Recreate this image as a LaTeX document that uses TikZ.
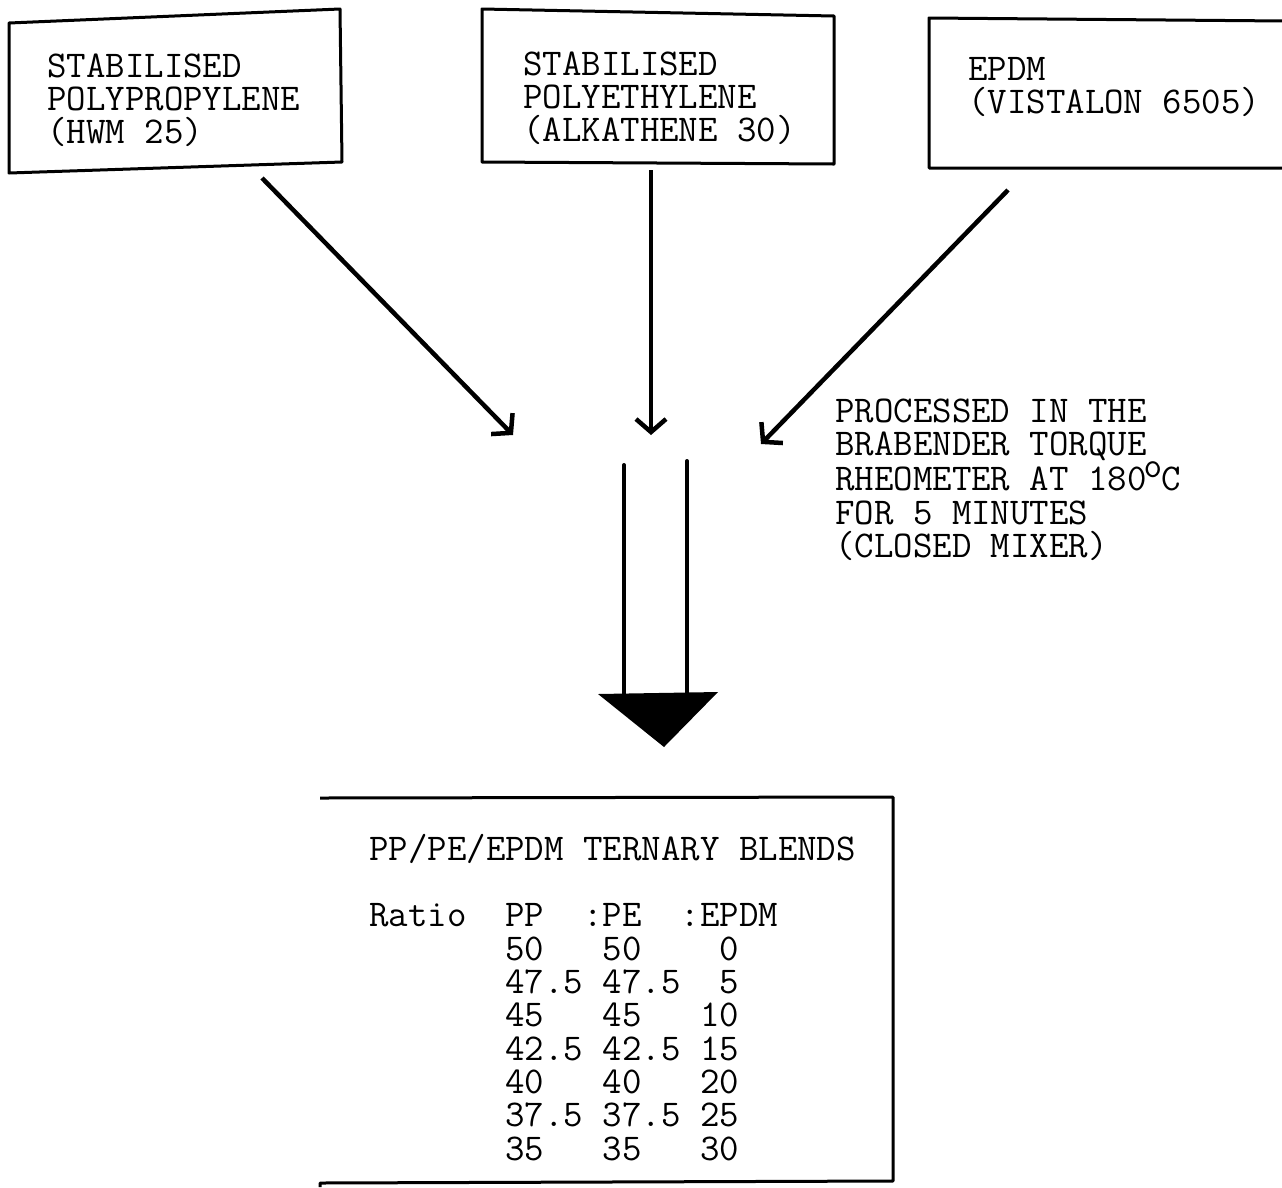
\documentclass[tikz,border=0pt]{standalone}
\usepackage{fontspec}
\usetikzlibrary{arrows.meta}
\newcommand\twfont{\ttfamily\addfontfeatures{FakeBold=0.8}\fontsize{37.8}{33.3}\selectfont}
\tikzset{
  boxline/.style={line width=3pt, line join=round},
  txt/.style={font=\twfont, align=left, inner sep=0pt, anchor=base west},
  feed/.style={line width=4.5pt, -{Straight Barb[length=13pt,width=30pt,line width=4.5pt]}},
  shaft/.style={line width=4pt, line cap=round},
}
\begin{document}
\begin{tikzpicture}[x=1pt,y=-1pt]
\useasboundingbox (0,0) rectangle (1282,1187);
% boxes
\draw[boxline] (9,23) -- (340,9) -- (342,162) -- (9,173) -- cycle;
\draw[boxline] (482,9) -- (834,16) -- (834,164) -- (482,162) -- cycle;
\draw[boxline] (1285,21) -- (929,18) -- (929,168) -- (1285,168);
\draw[boxline] (320,798) -- (893,797) -- (893,1181) -- (320,1183) -- (320,1187);
% texts (anchor = baseline of last line)
\node[txt] (t1) at (47,143.6) {STABILISED\\POLYPROPYLENE\\(HWM 25)};
\node[txt] (t2) at (523,141.6) {STABILISED\\POLYETHYLENE\\(ALKATHENE 30)};
\node[txt] (t3) at (968,113.3) {EPDM\\(VISTALON 6505)};
\node[txt] (side) at (835,557.5) {PROCESSED IN THE\\BRABENDER TORQUE\\RHEOMETER AT 180\kern-3pt\raisebox{13pt}{\fontsize{36}{36}\selectfont o}\kern-1pt C\\FOR 5 MINUTES\\(CLOSED MIXER)};
\node[txt] (blend) at (369,1160) {PP/PE/EPDM TERNARY BLENDS\\[33.5pt]
Ratio~~PP~~:PE~~:EPDM\\
~~~~~~~50~~~50~~~~0\\
~~~~~~~47.5~47.5~~5\\
~~~~~~~45~~~45~~~10\\
~~~~~~~42.5~42.5~15\\
~~~~~~~40~~~40~~~20\\
~~~~~~~37.5~37.5~25\\
~~~~~~~35~~~35~~~30};
% feed arrows
\coordinate (a1s) at (262,178);
\coordinate (a1e) at (513,435);
\coordinate (a2s) at (651,170);
\coordinate (a2e) at (651,435);
\coordinate (a3s) at (1008,190);
\coordinate (a3e) at (761,444);
\draw[feed] (a1s) -- (a1e);
\draw[feed] (a2s) -- (a2e);
\draw[feed] (a3s) -- (a3e);
% big arrow
\coordinate (l1) at (624,465);
\coordinate (l1b) at (624,694);
\coordinate (l2) at (687,461);
\coordinate (l2b) at (687,693);
\draw[shaft] (l1) -- (l1b);
\draw[shaft] (l2) -- (l2b);
\coordinate (h1) at (598,694);
\coordinate (h2) at (718,692);
\coordinate (h3) at (664,747);
\fill[line join=round] (h1) -- (h2) -- (h3) -- cycle;
\end{tikzpicture}
\end{document}
